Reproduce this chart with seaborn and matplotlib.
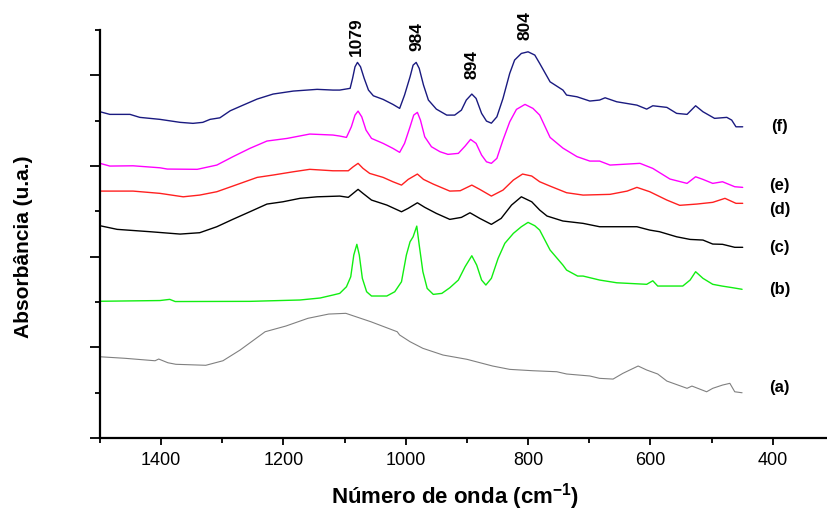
import numpy as np
import pandas as pd
import matplotlib
matplotlib.use("Agg")
import matplotlib.pyplot as plt
import seaborn as sns
from matplotlib.ticker import MultipleLocator

# ---------------- data ----------------
wn_f = [1500,1484,1451,1435,1402,1369,1348,1332,1320,1304,1287,1266,1243,1217,1184,1145,1119,1108,1091,1087,1083,1079,1074,1068,1061,1053,1037,1021,1010,1002,993,988,983,978,971,963,950,933,920,909,901,892,885,876,868,860,851,841,830,822,811,800,789,781,764,743,737,720,699,683,674,655,622,606,596,573,557,540,526,514,495,475,467,460,449]
ab_f = [3.598,3.569,3.569,3.536,3.514,3.481,3.470,3.481,3.514,3.531,3.609,3.671,3.738,3.793,3.826,3.845,3.837,3.837,3.856,3.966,4.094,4.142,4.094,3.966,3.837,3.774,3.734,3.679,3.635,3.782,3.983,4.112,4.142,4.076,3.892,3.727,3.627,3.561,3.561,3.616,3.727,3.793,3.745,3.580,3.495,3.472,3.542,3.745,4.021,4.168,4.241,4.259,4.223,4.131,3.928,3.837,3.782,3.763,3.716,3.727,3.752,3.708,3.671,3.627,3.664,3.646,3.580,3.569,3.664,3.598,3.525,3.536,3.506,3.432,3.432]

wn_e = [1500,1484,1446,1402,1390,1341,1309,1283,1255,1227,1194,1157,1119,1108,1097,1089,1083,1078,1072,1065,1056,1037,1021,1010,1002,993,987,981,976,969,958,944,931,914,903,894,885,876,868,860,851,841,830,819,805,792,781,764,743,720,699,683,666,617,596,568,540,526,514,498,482,462,449]
ab_e = [3.029,2.999,3.002,2.980,2.966,2.963,3.010,3.101,3.194,3.275,3.304,3.352,3.341,3.330,3.315,3.432,3.561,3.605,3.542,3.396,3.304,3.249,3.194,3.150,3.249,3.432,3.561,3.591,3.506,3.322,3.212,3.157,3.128,3.139,3.219,3.293,3.249,3.120,3.046,3.029,3.084,3.286,3.487,3.624,3.679,3.635,3.561,3.315,3.197,3.103,3.054,3.054,3.010,3.029,2.973,2.856,2.808,2.881,2.852,2.808,2.826,2.771,2.764]

wn_d = [1500,1446,1402,1364,1337,1309,1283,1243,1217,1184,1157,1119,1108,1094,1086,1078,1070,1059,1037,1021,1007,996,981,971,955,928,911,892,879,860,841,824,809,794,781,764,737,710,666,638,622,601,573,552,524,498,478,460,449]
ab_d = [2.723,2.723,2.698,2.660,2.679,2.716,2.778,2.874,2.900,2.936,2.963,2.947,2.947,2.947,2.991,3.029,2.974,2.918,2.874,2.826,2.789,2.852,2.911,2.852,2.800,2.723,2.727,2.789,2.742,2.668,2.734,2.845,2.911,2.889,2.826,2.778,2.705,2.679,2.687,2.723,2.764,2.716,2.624,2.566,2.580,2.599,2.643,2.588,2.588]

wn_c = [1500,1472,1418,1369,1337,1309,1283,1255,1227,1201,1173,1145,1108,1094,1086,1078,1070,1056,1031,1007,996,981,969,950,928,909,895,879,860,844,827,811,794,781,769,743,710,683,655,622,601,585,557,535,514,498,482,462,449]
ab_c = [2.341,2.301,2.275,2.249,2.264,2.330,2.411,2.495,2.580,2.605,2.643,2.660,2.668,2.654,2.698,2.742,2.698,2.624,2.569,2.495,2.533,2.594,2.544,2.477,2.411,2.433,2.484,2.422,2.356,2.422,2.569,2.660,2.605,2.514,2.448,2.393,2.367,2.330,2.330,2.330,2.293,2.275,2.219,2.190,2.183,2.139,2.136,2.103,2.103]

wn_b = [1500,1402,1386,1377,1255,1173,1140,1119,1108,1097,1090,1085,1080,1076,1071,1064,1056,1031,1018,1007,999,993,988,982,978,972,965,955,941,928,914,903,892,884,876,869,860,849,838,824,811,800,789,781,764,743,737,719,710,683,655,606,596,588,547,535,526,514,498,483,465,450]
ab_b = [1.508,1.516,1.529,1.505,1.507,1.522,1.544,1.577,1.595,1.668,1.778,2.018,2.136,2.018,1.761,1.613,1.566,1.566,1.613,1.723,2.018,2.164,2.219,2.337,2.128,1.834,1.650,1.584,1.595,1.657,1.742,1.889,2.010,1.907,1.742,1.687,1.761,1.981,2.147,2.257,2.330,2.378,2.341,2.293,2.073,1.907,1.852,1.786,1.786,1.742,1.712,1.695,1.734,1.676,1.676,1.742,1.834,1.761,1.695,1.676,1.657,1.640]

wn_a = [1500,1459,1410,1404,1389,1376,1327,1299,1271,1230,1196,1160,1126,1098,1057,1014,1010,993,972,939,900,858,830,792,753,737,699,683,661,645,620,606,588,573,540,532,508,498,482,470,462,450]
ab_a = [0.896,0.879,0.852,0.871,0.830,0.813,0.802,0.852,0.970,1.172,1.235,1.320,1.367,1.375,1.282,1.172,1.136,1.062,0.989,0.915,0.868,0.794,0.757,0.742,0.731,0.706,0.684,0.658,0.650,0.713,0.794,0.750,0.706,0.628,0.548,0.573,0.510,0.548,0.584,0.603,0.510,0.499]

curve_labels = ["(a)", "(b)", "(c)", "(d)", "(e)", "(f)"]
peak_labels = ["1079", "984", "894", "804"]
x_ticks = [1400, 1200, 1000, 800, 600, 400]

# ---------------- style ----------------
sns.set_style("ticks")
plt.rcParams["font.family"] = ["Liberation Sans", "DejaVu Sans"]
plt.rcParams["mathtext.fontset"] = "custom"
plt.rcParams["mathtext.rm"] = "Liberation Sans"
plt.rcParams["mathtext.bf"] = "Liberation Sans:bold"
plt.rcParams["text.color"] = "black"
plt.rcParams["axes.labelcolor"] = "black"
plt.rcParams["xtick.color"] = "black"
plt.rcParams["ytick.color"] = "black"
plt.rcParams["axes.edgecolor"] = "black"

fig = plt.figure(figsize=(8.28, 5.12), dpi=100)
ax = fig.add_axes([0.1208, 0.1445, 0.8792, 0.797])

series = [
    (wn_a, ab_a, "#808080", 0.8),
    (wn_b, ab_b, "#11ee11", 1.0),
    (wn_c, ab_c, "#000000", 1.0),
    (wn_d, ab_d, "#ff2020", 1.0),
    (wn_e, ab_e, "#ff00ff", 1.0),
    (wn_f, ab_f, "#1a1a80", 1.0),
]
for wn, ab, col, lw in series:
    sns.lineplot(x=wn, y=ab, color=col, linewidth=lw, sort=False, ax=ax,
                 estimator=None)

ax.set_xlim(1500, 309.5)
ax.set_ylim(0, 4.5)
ax.xaxis.set_minor_locator(MultipleLocator(100))
ax.set_xticks(x_ticks)
ax.set_xticklabels([str(t) for t in x_ticks], fontsize=13)
ax.yaxis.set_major_locator(MultipleLocator(1))
ax.yaxis.set_minor_locator(MultipleLocator(0.5))
ax.set_yticklabels([])
ax.tick_params(axis="x", which="major", length=5, width=1.3, direction="out", pad=5)
ax.tick_params(axis="x", which="minor", length=3.5, width=1.3, direction="out")
ax.tick_params(axis="y", which="major", length=7, width=1.3, direction="out")
ax.tick_params(axis="y", which="minor", length=3.6, width=1.3, direction="out")
for s in ["top", "right"]:
    ax.spines[s].set_visible(False)
for s in ["left", "bottom"]:
    ax.spines[s].set_linewidth(1.6)
    ax.spines[s].set_color("black")

ax.set_xlabel(r"Número de onda (cm$\mathbf{^{-1}}$)", fontsize=16, fontweight="bold",
              va="center", ha="center")
ax.xaxis.set_label_coords(0.4876, -0.1446)
ax.set_ylabel("Absorbância (u.a.)", fontsize=15, fontweight="bold",
              va="center", ha="center")
ax.yaxis.set_label_coords(-0.1058, 0.468)

# curve labels
label_y = [0.562, 1.643, 2.106, 2.525, 2.79, 3.43]
for lab, yy in zip(curve_labels, label_y):
    ax.text(389, yy, lab, fontsize=12, fontweight="bold", ha="center", va="center")

# peak labels
peak_pos = [(1080, 4.43), (982, 4.43), (892, 4.12), (805, 4.55)]
for lab, (xx, yy) in zip(peak_labels, peak_pos):
    ax.text(xx, yy, lab, fontsize=12.5, fontweight="bold", rotation=90,
            ha="center", va="center", clip_on=False)

fig.savefig("out.png", dpi=100)
